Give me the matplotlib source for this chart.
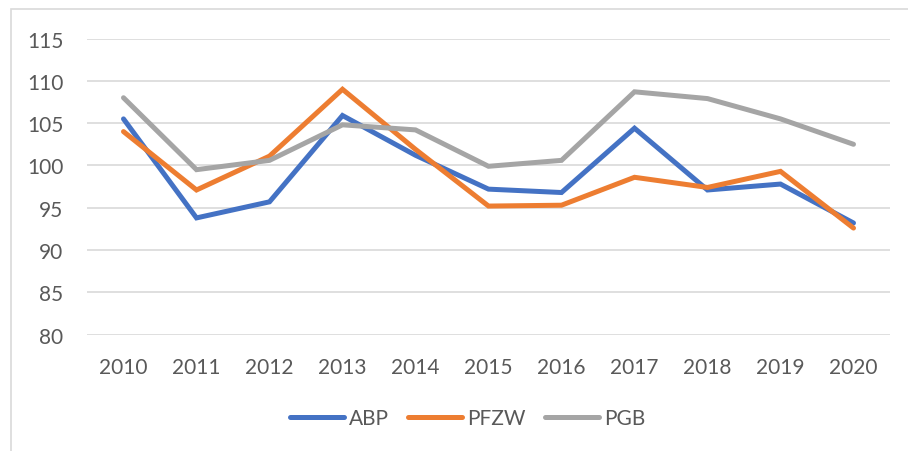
import matplotlib.pyplot as plt
from matplotlib.patches import Rectangle

# data
years = ['2010', '2011', '2012', '2013', '2014', '2015', '2016', '2017', '2018', '2019', '2020']
abp = [105.5, 93.8, 95.7, 105.9, 101.2, 97.2, 96.8, 104.4, 97.1, 97.8, 93.2]
pfzw = [104.0, 97.1, 101.1, 109.0, 101.9, 95.2, 95.3, 98.6, 97.4, 99.3, 92.6]
pgb = [108.0, 99.5, 100.6, 104.8, 104.2, 99.9, 100.6, 108.7, 107.9, 105.5, 102.5]
yticks = [80, 85, 90, 95, 100, 105, 110, 115]

plt.rcParams['font.family'] = ['Lato', 'DejaVu Sans']
text_col = '#595959'
grid_col = '#d9d9d9'

fig = plt.figure(figsize=(9.08, 4.52), dpi=100)
ax = fig.add_axes([87 / 908, 1 - 335.7 / 452, (890 - 87) / 908, (335.7 - 39.5) / 452])

x = range(len(years))
ax.plot(x, abp, color='#4472C4', lw=3.6, solid_capstyle='round', solid_joinstyle='miter', label='ABP')
ax.plot(x, pfzw, color='#ED7D31', lw=3.6, solid_capstyle='round', solid_joinstyle='miter', label='PFZW')
ax.plot(x, pgb, color='#A5A5A5', lw=3.6, solid_capstyle='round', solid_joinstyle='miter', label='PGB')

ax.set_xlim(-0.5, len(years) - 0.5)
ax.set_ylim(80, 115)
ax.set_yticks(yticks)
ax.set_xticks(list(x))
ax.set_xticklabels(years)
ax.yaxis.grid(True, color=grid_col, lw=1.2)
ax.set_axisbelow(True)
for s in ax.spines.values():
    s.set_visible(False)
ax.tick_params(length=0, labelsize=15, colors=text_col)
ax.tick_params(axis='x', pad=16)
ax.tick_params(axis='y', pad=17)

leg = fig.legend(loc='center', bbox_to_anchor=(0.515, 0.073), ncol=3, frameon=False,
                 fontsize=15, handlelength=2.6, handletextpad=0.25, columnspacing=0.9)
for t in leg.get_texts():
    t.set_color(text_col)

# outer chart border (cropped at right and bottom)
fig.add_artist(Rectangle((11 / 908, -0.1), 1.2, 1.1 - 10 / 452, transform=fig.transFigure,
                         fill=False, ec=grid_col, lw=1.2))

fig.savefig('out.png', dpi=100)
